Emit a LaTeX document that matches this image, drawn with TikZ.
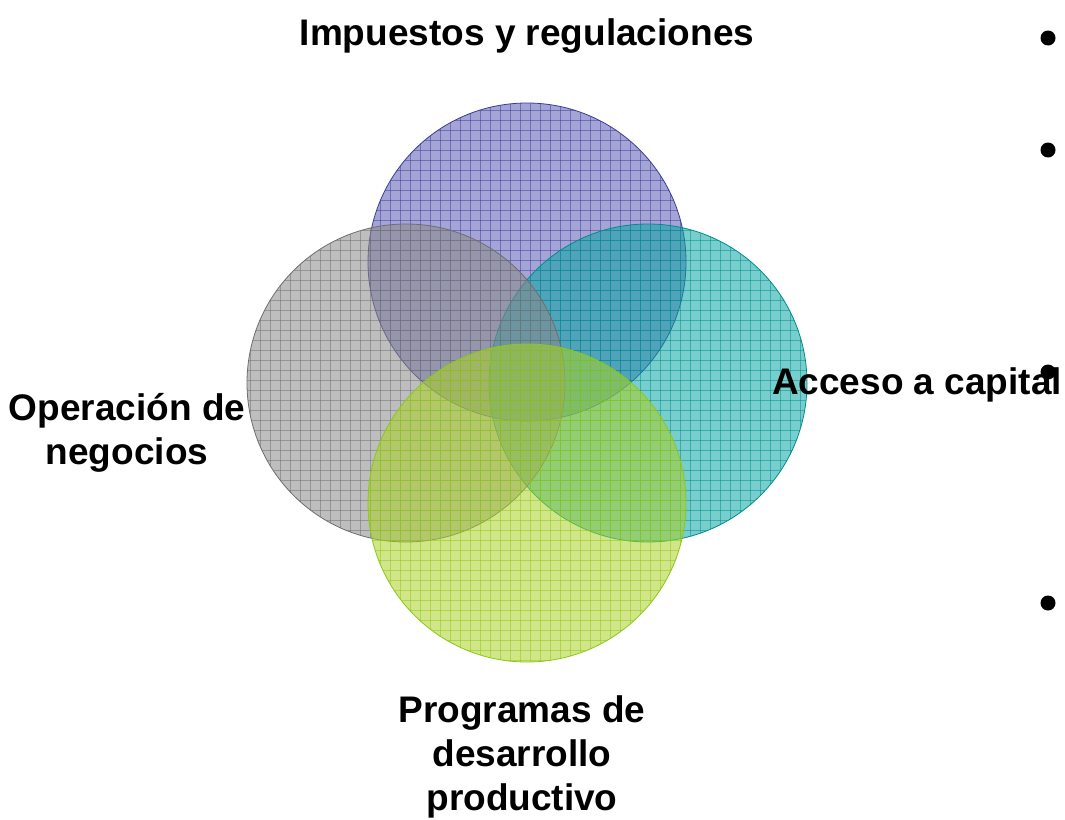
\documentclass[tikz,border=0pt]{standalone}
\usepackage{fontspec}
\setmainfont{Liberation Sans}
\begin{document}
\begin{tikzpicture}[x=1pt,y=-1pt]
\definecolor{cpur}{RGB}{91,91,182}
\definecolor{cpurd}{RGB}{60,60,150}
\definecolor{cteal}{RGB}{10,164,164}
\definecolor{cteald}{RGB}{0,140,140}
\definecolor{cgray}{RGB}{137,137,137}
\definecolor{cgrayd}{RGB}{110,110,110}
\definecolor{cgrn}{RGB}{170,210,40}
\definecolor{cgrnd}{RGB}{140,200,20}
\tikzset{lbl/.style={font=\fontsize{37}{44}\selectfont\bfseries, align=center, inner sep=0pt},
  bul/.style={circle, fill=black, minimum size=15pt, inner sep=0pt}}
\useasboundingbox (0,0) rectangle (1065,819);
\fill[white] (0,0) rectangle (1065,819);
\newcommand{\vcirc}[4]{%
  \fill[#3, opacity=0.55] (#1,#2) circle (159);
  \begin{scope}
    \clip (#1,#2) circle (159);
    \foreach \g in {0,10,...,1060} {\draw[#4, opacity=0.5, line width=0.9pt] (\g,0) -- (\g,819);}
    \foreach \g in {0,10,...,810} {\draw[#4, opacity=0.5, line width=0.9pt] (0,\g) -- (1065,\g);}
  \end{scope}
  \draw[#4, line width=0.8pt] (#1,#2) circle (159);
}
\vcirc{527}{262}{cpur}{cpurd}
\vcirc{648}{383}{cteal}{cteald}
\vcirc{406}{383}{cgray}{cgrayd}
\vcirc{527}{503}{cgrn}{cgrnd}
\node[lbl] (top) at (527,36) {Impuestos y regulaciones};
\node[lbl] (left) at (127,433) {Operación de\\negocios};
\node[lbl] (right) at (917,385) {Acceso a capital};
\node[lbl] (bot) at (522,757) {Programas de\\desarrollo\\productivo};
\node[bul] (b1) at (1048,38) {};
\node[bul] (b2) at (1048,150) {};
\node[bul] (b3) at (1048,372) {};
\node[bul] (b4) at (1048,603) {};
\end{tikzpicture}
\end{document}
